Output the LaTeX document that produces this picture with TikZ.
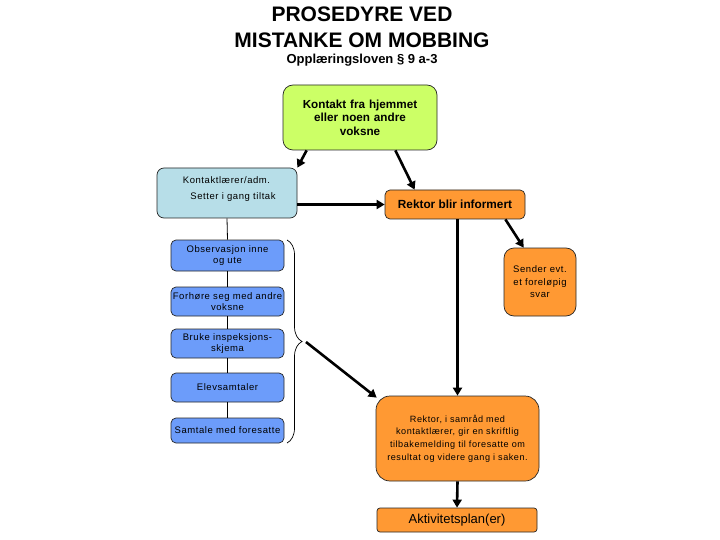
\documentclass[tikz,border=0pt]{standalone}
\usepackage{fontspec}
\setmainfont{Liberation Sans}
\newfontfamily\spacedfont[LetterSpace=6]{Liberation Sans}
\usetikzlibrary{arrows.meta,decorations.pathreplacing}
\definecolor{limegreen}{RGB}{204,255,102}
\definecolor{paleblue}{RGB}{183,222,232}
\definecolor{colblue}{RGB}{108,156,250}
\definecolor{orangefill}{RGB}{255,153,51}
\begin{document}
\begin{tikzpicture}[x=1pt,y=-1pt,
  box/.style={draw=black!85, line width=0.7pt, inner sep=1pt, align=center, rounded corners=#1},
  box/.default=6pt,
  small/.style={font=\spacedfont\fontsize{9.5}{11.5}\selectfont},
  colbox/.style={box=5pt, fill=colblue, minimum width=111pt, text width=111pt, small},
  thickarr/.style={line width=2.6pt, -{Triangle[length=8pt,width=9pt]}},
  thinline/.style={line width=0.8pt, black}
]
\useasboundingbox (0,0) rectangle (720,540);
% title
\node[font=\fontsize{21}{24}\selectfont\bfseries] (t1) at (362,14) {PROSEDYRE VED};
\node[font=\fontsize{21}{24}\selectfont\bfseries] (t2) at (362,40) {MISTANKE OM MOBBING};
\node[font=\fontsize{13}{15}\selectfont\bfseries] (t3) at (362,60) {Opplæringsloven § 9 a-3};
% main boxes
\node[box=10pt, fill=limegreen, minimum width=154pt, minimum height=65pt, text width=150pt,
      font=\fontsize{11.7}{13.5}\selectfont\bfseries] (green) at (360,117.5)
      {Kontakt fra hjemmet\\eller noen andre\\voksne};
\node[box=7pt, fill=paleblue, minimum width=140pt, minimum height=50pt, text width=136pt] (blue) at (227,193) {};
\node[small] (bluet1) at (226.5,180) {Kontaktlærer/adm.};
\node[small] (bluet2) at (233,197) {Setter i gang tiltak};
\node[box=5pt, fill=orangefill, minimum width=140pt, minimum height=29pt,
      font=\fontsize{11.8}{13.5}\selectfont\bfseries] (rektor) at (455,204.5) {Rektor blir informert};
\node[box=10pt, fill=orangefill, minimum width=70pt, minimum height=68pt, text width=70pt,
      font=\spacedfont\fontsize{9.5}{12.5}\selectfont] (sender) at (540,282) {Sender evt.\\et foreløpig\\svar};
\node[box=14pt, fill=orangefill, minimum width=161pt, minimum height=85pt, text width=161pt,
      font=\spacedfont\fontsize{9.1}{12.7}\selectfont] (big) at (457.5,438.5)
      {Rektor, i samråd med\\kontaktlærer, gir en skriftlig\\tilbakemelding til foresatte om\\resultat og videre gang i saken.};
\node[box=3pt, fill=orangefill, minimum width=160pt, minimum height=24pt,
      font=\fontsize{13}{15}\selectfont] (aktiv) at (457,520) {Aktivitetsplan(er)};
% left column
\node[colbox, minimum height=31pt] (b1) at (227.5,255.5) {Observasjon inne\\og ute};
\node[colbox, minimum height=29pt] (b2) at (227.5,301.5) {Forhøre seg med andre\\voksne};
\node[colbox, minimum height=29pt] (b3) at (227.5,343.5) {Bruke inspeksjons-\\skjema};
\node[colbox, minimum height=29pt] (b4) at (227.5,387.5) {Elevsamtaler};
\node[colbox, minimum height=25pt] (b5) at (227.5,430.5) {Samtale med foresatte};
\draw[thinline] (blue.south) -- (b1.north);
\draw[thinline] (b1.south) -- (b2.north);
\draw[thinline] (b2.south) -- (b3.north);
\draw[thinline] (b3.south) -- (b4.north);
\draw[thinline] (b4.south) -- (b5.north);
% brace
\coordinate (bt) at (287,240);
\coordinate (bb) at (287,443);
\coordinate (btip) at (306,342);
\draw[line width=0.7pt, decorate, decoration={brace, amplitude=15pt}] (bt) -- (bb);
% arrows
\draw[thickarr] ([xshift=24pt]green.south west) -- (blue.north east);
\draw[thickarr] ([xshift=-42pt]green.south east) -- ([xshift=30pt]rektor.north west);
\draw[thickarr] (blue.east |- rektor.west) -- (rektor.west);
\draw[thickarr] ([xshift=-20pt]rektor.south east) -- ([xshift=20pt]sender.north west);
\draw[thickarr] (big.north |- rektor.south) -- (big.north);
\draw[thickarr] (btip) -- ([xshift=1pt,yshift=-2pt]big.north west);
\draw[thickarr] (big.south) -- (aktiv.north);
\end{tikzpicture}
\end{document}
